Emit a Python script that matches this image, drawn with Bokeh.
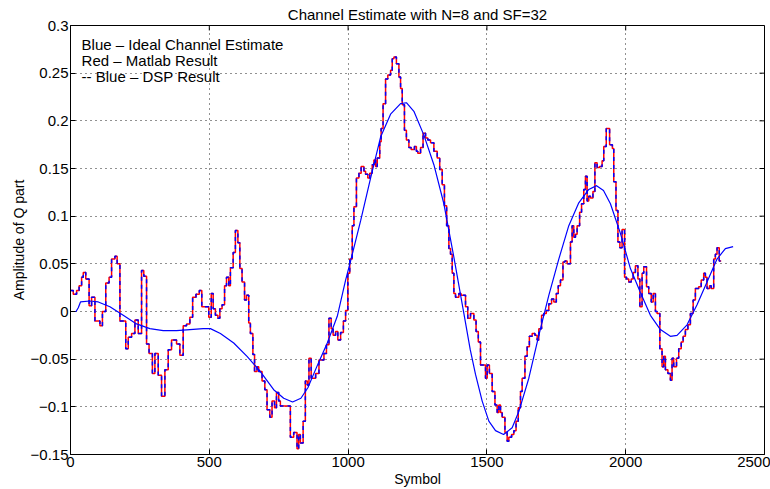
import numpy as np
from bokeh.plotting import figure
from bokeh.models import Label, FixedTicker, Range1d
from bokeh.embed import file_html
from bokeh.resources import INLINE

# ---------------- data ----------------
# Staircase results: symbol where each held value starts, and the held value
step_start = [
    0, 10, 22, 31, 40, 46, 55, 67, 76, 88, 106, 115, 127, 139, 148, 160, 168, 178,
    199, 208, 220, 232, 244, 256, 264, 274, 283, 295, 304, 316, 328, 340, 352, 364,
    382, 394, 406, 418, 430, 440, 452, 464, 473, 498, 507, 514, 522, 531, 538, 546,
    555, 562, 570, 576, 586, 594, 603, 610, 618, 627, 634, 642, 648, 657, 663, 672,
    678, 690, 700, 708, 718, 726, 735, 742, 750, 756, 792, 804, 816, 822, 828, 838,
    846, 853, 859, 867, 883, 895, 913, 922, 931, 939, 946, 955, 963, 973, 983, 991,
    999, 1006, 1015, 1021, 1030, 1039, 1047, 1057, 1063, 1071, 1078, 1087, 1093,
    1099, 1105, 1114, 1119, 1126, 1135, 1143, 1153, 1159, 1165, 1174, 1183, 1189,
    1195, 1203, 1210, 1219, 1227, 1239, 1246, 1251, 1261, 1270, 1279, 1287, 1297,
    1309, 1321, 1330, 1339, 1347, 1355, 1363, 1369, 1375, 1381, 1387, 1399, 1407,
    1423, 1431, 1441, 1453, 1461, 1469, 1477, 1495, 1501, 1509, 1519, 1529, 1537,
    1543, 1549, 1555, 1565, 1573, 1579, 1589, 1597, 1605, 1613, 1621, 1627, 1637,
    1645, 1653, 1663, 1673, 1681, 1687, 1697, 1705, 1714, 1723, 1733, 1741, 1750,
    1757, 1765, 1774, 1781, 1789, 1801, 1807, 1813, 1819, 1825, 1834, 1841, 1849,
    1855, 1861, 1867, 1873, 1882, 1889, 1897, 1906, 1915, 1921, 1930, 1942, 1952,
    1957, 1965, 1972, 1979, 1987, 1996, 2003, 2011, 2020, 2027, 2035, 2044, 2051,
    2059, 2065, 2075, 2083, 2092, 2099, 2107, 2113, 2123, 2131, 2137, 2143, 2152,
    2161, 2167, 2173, 2183, 2191, 2200, 2207, 2215, 2224, 2233, 2243, 2251, 2263,
    2272, 2281, 2287, 2293, 2302, 2308, 2317, 2323, 2329, 2337,
]
last_symbol = 2344

matlab_q = [
    0.022, 0.018, 0.022, 0.027, 0.036, 0.041, 0.034, 0.006, 0.015, -0.010, -0.015,
    0.000, 0.030, 0.036, 0.055, 0.058, 0.050, -0.010, -0.039, -0.027, -0.023,
    -0.009, -0.023, 0.043, 0.037, -0.034, -0.044, -0.065, -0.044, -0.067, -0.089,
    -0.061, -0.040, -0.030, -0.034, -0.046, -0.015, -0.013, -0.006, 0.015, 0.018,
    0.022, 0.005, -0.006, 0.019, 0.003, -0.004, -0.007, 0.003, 0.007, 0.027, 0.036,
    0.027, 0.046, 0.062, 0.085, 0.072, 0.045, 0.031, 0.012, 0.017, -0.012, -0.023,
    -0.045, -0.063, -0.058, -0.063, -0.073, -0.082, -0.103, -0.111, -0.094, -0.101,
    -0.085, -0.094, -0.099, -0.132, -0.127, -0.144, -0.129, -0.138, -0.115, -0.073,
    -0.077, -0.049, -0.070, -0.065, -0.051, -0.044, -0.035, -0.007, -0.018, -0.025,
    -0.021, -0.030, -0.022, -0.010, 0.001, 0.040, 0.055, 0.090, 0.110, 0.140, 0.145,
    0.152, 0.147, 0.144, 0.140, 0.145, 0.154, 0.159, 0.152, 0.161, 0.178, 0.192,
    0.218, 0.244, 0.248, 0.253, 0.265, 0.267, 0.260, 0.246, 0.234, 0.217, 0.190,
    0.180, 0.172, 0.170, 0.173, 0.168, 0.166, 0.172, 0.187, 0.182, 0.180, 0.177,
    0.168, 0.161, 0.149, 0.133, 0.111, 0.090, 0.066, 0.060, 0.040, 0.019, 0.015,
    0.019, 0.017, 0.005, -0.007, -0.002, -0.009, -0.021, -0.032, -0.056, -0.070,
    -0.056, -0.065, -0.084, -0.098, -0.106, -0.098, -0.106, -0.111, -0.127, -0.136,
    -0.132, -0.129, -0.125, -0.115, -0.101, -0.084, -0.070, -0.047, -0.037, -0.026,
    -0.023, -0.025, -0.030, -0.018, -0.004, -0.002, 0.001, 0.008, 0.013, 0.010,
    0.019, 0.027, 0.033, 0.052, 0.053, 0.050, 0.073, 0.090, 0.078, 0.081, 0.090,
    0.104, 0.113, 0.128, 0.142, 0.116, 0.121, 0.119, 0.126, 0.156, 0.151, 0.152,
    0.158, 0.173, 0.192, 0.175, 0.171, 0.136, 0.106, 0.073, 0.067, 0.086, 0.036,
    0.034, 0.031, 0.034, 0.041, 0.048, 0.034, 0.005, 0.040, 0.047, 0.026, 0.019,
    0.010, 0.019, 0.000, -0.002, -0.039, -0.058, -0.047, -0.061, -0.065, -0.072,
    -0.049, -0.058, -0.049, -0.039, -0.032, -0.026, -0.019, -0.014, -0.002, 0.012,
    0.024, 0.026, 0.033, 0.040, 0.036, 0.024, 0.027, 0.024, 0.055, 0.060, 0.067,
    0.053,
]
dsp_q = list(matlab_q)

ideal_symbol = [
    0, 20, 28, 36, 70, 100, 142, 190, 238, 286, 334, 382, 430, 478, 504, 540,
    588, 636, 684, 732, 768, 800, 830, 855, 890, 925, 961, 991, 1009, 1045,
    1081, 1117, 1153, 1189, 1210, 1237, 1273, 1309, 1345, 1381, 1417, 1440,
    1459, 1483, 1507, 1531, 1560, 1591, 1615, 1651, 1687, 1723, 1759, 1795,
    1831, 1867, 1895, 1920, 1945, 1981, 2017, 2053, 2089, 2125, 2161, 2185,
    2221, 2257, 2293, 2329, 2359, 2387,
]
ideal_q = [
    0.000, 0.000, 0.004, 0.010, 0.011, 0.010, 0.005, -0.004, -0.013, -0.018,
    -0.020, -0.020, -0.019, -0.018, -0.018, -0.023, -0.033, -0.047, -0.063,
    -0.082, -0.091, -0.095, -0.091, -0.080, -0.056, -0.033, -0.005, 0.033,
    0.053, 0.095, 0.140, 0.183, 0.207, 0.218, 0.219, 0.210, 0.185, 0.154,
    0.113, 0.057, -0.002, -0.040, -0.066, -0.094, -0.115, -0.125, -0.129,
    -0.122, -0.105, -0.070, -0.025, 0.017, 0.055, 0.090, 0.114, 0.128, 0.132,
    0.127, 0.113, 0.082, 0.045, 0.020, -0.004, -0.019, -0.026, -0.025, -0.014,
    0.007, 0.031, 0.055, 0.066, 0.068,
]

x_ticks = [0, 500, 1000, 1500, 2000, 2500]
y_ticks = [-0.15, -0.1, -0.05, 0, 0.05, 0.1, 0.15, 0.2, 0.25, 0.3]
y_tick_labels = ["\u22120.15", "\u22120.1", "\u22120.05", "0", "0.05", "0.1",
                 "0.15", "0.2", "0.25", "0.3"]

title_text = "Channel Estimate with N=8 and SF=32"
x_label = "Symbol"
y_label = "Amplitude of Q part"
notes = ["Blue \u2013 Ideal Channel Estimate", "Red \u2013 Matlab Result",
         "-- Blue \u2013 DSP Result"]
note_y = [0.280, 0.2635, 0.247]

FONT = "Liberation Sans"
X0, X1, Y0, Y1 = 0, 2500, -0.15, 0.3

# ---------------- figure ----------------
p = figure(width=770, height=489, x_range=Range1d(X0, X1), y_range=Range1d(Y0, Y1),
           output_backend="svg", toolbar_location=None, title=title_text,
           min_border_left=70, min_border_right=6, min_border_top=25, min_border_bottom=4)
p.background_fill_color = "white"
p.border_fill_color = "white"
p.outline_line_color = "black"
p.outline_line_width = 1

p.title.align = "center"
p.title.text_font = FONT
p.title.text_font_size = "15px"
p.title.text_font_style = "normal"
p.title.text_color = "black"
p.title.standoff = 5

p.xaxis.ticker = FixedTicker(ticks=x_ticks)
p.yaxis.ticker = FixedTicker(ticks=y_ticks)
p.yaxis.major_label_overrides = {t: s for t, s in zip(y_ticks, y_tick_labels)}
p.xaxis.axis_label = x_label
p.yaxis.axis_label = y_label
for ax in (p.xaxis[0], p.yaxis[0]):
    ax.axis_line_color = "black"
    ax.major_tick_line_color = "black"
    ax.major_tick_in = 5
    ax.major_tick_out = 0
    ax.minor_tick_line_color = None
    ax.major_label_text_font = FONT
    ax.major_label_text_color = "black"
    ax.major_label_text_font_size = "15px"
    ax.major_label_standoff = 2
    ax.axis_label_text_font = FONT
    ax.axis_label_text_font_size = "14px"
    ax.axis_label_text_font_style = "normal"
    ax.axis_label_text_color = "black"
    ax.axis_label_standoff = 1

p.grid.grid_line_color = "#222222"
p.grid.grid_line_dash = "1 4"
p.grid.grid_line_width = 1
p.xgrid.ticker = FixedTicker(ticks=x_ticks)
p.ygrid.ticker = FixedTicker(ticks=y_ticks)

# inward ticks on the top and right edges of the box (MATLAB style)
frame_w, frame_h = 694.0, 432.0
tick_px = 5.0
dx = tick_px * (X1 - X0) / frame_w
dy = tick_px * (Y1 - Y0) / frame_h
p.segment(x0=x_ticks, y0=[Y1] * len(x_ticks), x1=x_ticks, y1=[Y1 - dy] * len(x_ticks),
          line_color="black", line_width=1)
p.segment(x0=[X1] * len(y_ticks), y0=y_ticks, x1=[X1 - dx] * len(y_ticks), y1=y_ticks,
          line_color="black", line_width=1)

# ---------------- glyphs ----------------
edges = list(step_start) + [last_symbol]
m_vals = list(matlab_q) + [matlab_q[-1]]
d_vals = list(dsp_q) + [dsp_q[-1]]

p.step(edges, m_vals, mode="after", line_color="#ff0000", line_width=1.5)
p.step(edges, d_vals, mode="after", line_color="#0000ff", line_width=1.5, line_dash="4 4")
p.line(ideal_symbol, ideal_q, line_color="#0000ff", line_width=1.2)

for t, yv in zip(notes, note_y):
    p.add_layout(Label(x=40, y=yv, text=t, text_font=FONT, text_font_size="15px",
                       text_baseline="middle", text_color="black"))

open("out.html", "w").write(file_html(p, INLINE))
